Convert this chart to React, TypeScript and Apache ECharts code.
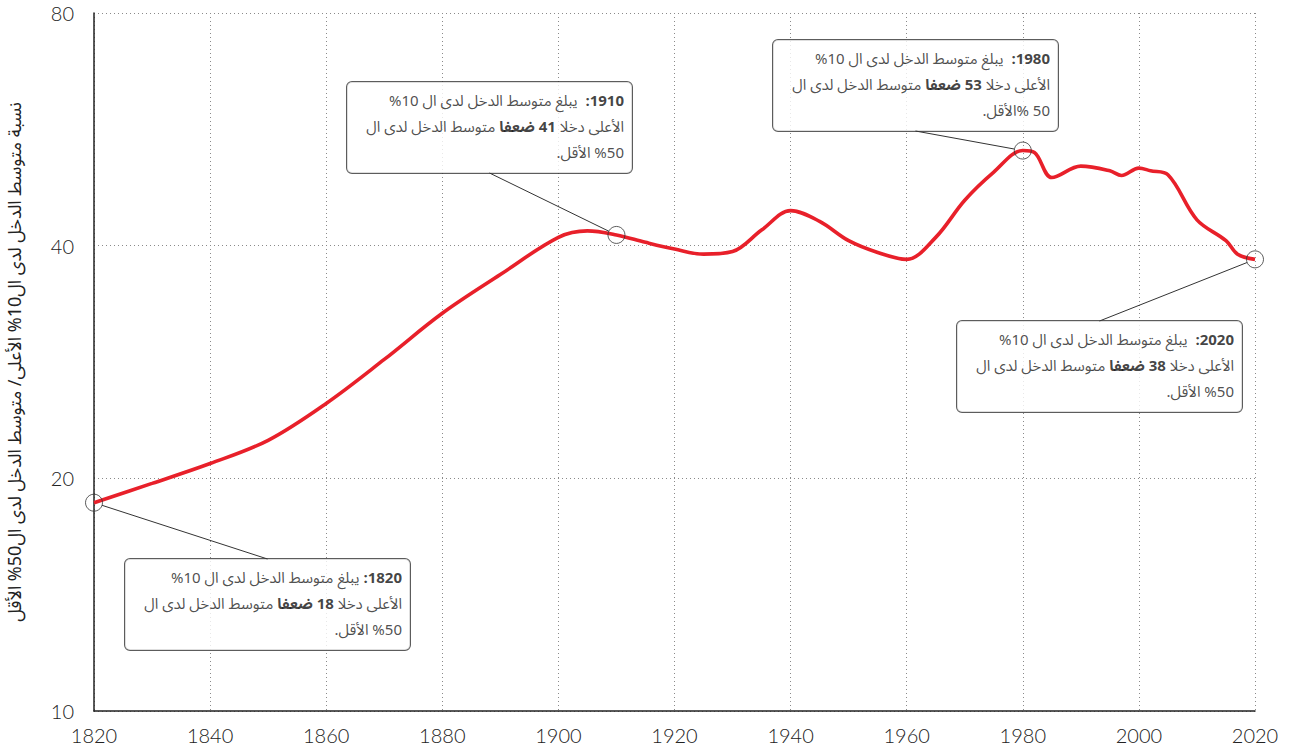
import React, { useEffect, useRef } from 'react';
import * as echarts from 'echarts';

// ---- data ----
const years = [1820, 1830, 1840, 1850, 1860, 1870, 1880, 1890, 1900, 1905, 1910, 1915, 1920, 1925, 1930, 1935, 1940, 1945, 1950, 1955, 1960, 1965, 1970, 1975, 1980, 1982, 1985, 1990, 1995, 1997, 2000, 2002, 2005, 2010, 2015, 2017, 2020];
const ratio = [18.6, 19.7, 20.9, 22.4, 25.0, 28.5, 32.7, 36.7, 41.0, 41.8, 41.3, 40.4, 39.6, 39.0, 39.3, 41.9, 44.4, 43.0, 40.6, 39.2, 38.4, 41.0, 45.8, 49.8, 53.1, 52.8, 49.0, 50.7, 50.0, 49.3, 50.4, 50.0, 49.4, 43.2, 40.6, 39.0, 38.4];
const yTickValues = [10, 20, 40, 80];
const noteYears = [1820, 1910, 1980, 2020];
const noteMultiples = ['18', '41', '53', '38'];
const noteYearGaps = [' ', '  ', '  ', '  '];
const noteLastLines = ['50% الأقل.', '50% الأقل.', '50 %الأقل.', '50% الأقل.'];
const noteLine1 = 'يبلغ متوسط الدخل لدى ال 10%';
const noteLine2a = 'الأعلى دخلا';
const noteLine2b = 'ضعفا';
const noteLine2c = 'متوسط الدخل لدى ال';
const yAxisTitle = 'نسبة متوسط الدخل لدى ال10% الأعلى/ متوسط الدخل لدى ال50% الأقل';

// annotation box placement (top-left corners, px) and size
const noteBoxX = [125, 347, 773, 957];
const noteBoxY = [559, 82, 40, 321];
const boxInnerW = 270;
const boxPad = [6, 8, 7, 7];
const boxLineH = 26;
const boxW = boxInnerW + boxPad[1] + boxPad[3];
const boxH = boxLineH * 3 + boxPad[0] + boxPad[2];

const RLE = '\u202B';
const PDF = '\u202C';
const ALM = '\u061C';
const rtl = (s: string) => RLE + s + PDF;
const rtlCtx = (s: string) => RLE + ALM + s + PDF;

const arabicFont = "'Noto Sans Arabic', 'Noto Sans', 'DejaVu Sans', sans-serif";
const numFont = "Lato, 'Open Sans', sans-serif";

const noteTexts = noteYears.map((yr, i) => {
  const l1 = `{p|${rtl(noteLine1)}${noteYearGaps[i]}}{b|${rtl(yr + ':')}}`;
  const l2 = `{p|${rtlCtx(noteLine2c)} }{b|${rtlCtx(noteMultiples[i] + ' ' + noteLine2b)}}{p| ${rtl(noteLine2a)}}`;
  const l3 = `{p|${rtlCtx(noteLastLines[i])}}`;
  return [l1, l2, l3].join('\n');
});

const lineData = years.map((y, i) => [y, ratio[i]]);
const noteData = noteYears.map((y) => [y, ratio[years.indexOf(y)]]);

const gridLine = { show: true, lineStyle: { type: [1, 3] as any, color: '#8a8a8a', width: 1 } };
const symbolSize = 17;

const option: any = {
  animation: false,
  backgroundColor: '#fff',
  grid: { left: 94, right: 35, top: 13, bottom: 40, containLabel: false, outerBoundsMode: 'none' },
  xAxis: {
    type: 'value',
    min: 1820,
    max: 2020,
    interval: 20,
    axisLine: { show: true, onZero: false, lineStyle: { color: '#222', width: 1.5 } },
    axisTick: { show: false },
    axisLabel: { color: '#222', fontSize: 20, fontFamily: numFont, fontWeight: 300, margin: 14, formatter: (v: number) => String(v) },
    splitLine: gridLine,
  },
  yAxis: {
    type: 'log',
    logBase: 2,
    min: 10,
    max: 80,
    axisLine: { show: true, lineStyle: { color: '#222', width: 1.5 } },
    axisTick: { show: false, customValues: yTickValues },
    axisLabel: { customValues: yTickValues, color: '#222', fontSize: 20, fontFamily: numFont, fontWeight: 300, margin: 20, formatter: (v: number) => String(v) },
    splitLine: gridLine,
    name: rtl(yAxisTitle),
    nameLocation: 'middle',
    nameGap: 70,
    nameMoveOverlap: false,
    nameTextStyle: { color: '#222', fontSize: 18, fontFamily: arabicFont },
  },
  series: [
    {
      type: 'line',
      data: lineData,
      smooth: 0.35,
      symbol: 'none',
      lineStyle: { color: '#e8202a', width: 3.6 },
      z: 2,
    },
    {
      type: 'scatter',
      data: noteData,
      symbol: 'circle',
      symbolSize: symbolSize,
      itemStyle: { color: 'rgba(255,255,255,0)', borderColor: '#333', borderWidth: 1 },
      z: 3,
      label: {
        show: true,
        formatter: (p: any) => noteTexts[p.dataIndex],
        width: boxInnerW,
        padding: boxPad,
        backgroundColor: '#fff',
        borderColor: '#333',
        borderWidth: 1,
        borderRadius: 5,
        color: '#222',
        fontSize: 15,
        lineHeight: boxLineH,
        fontFamily: arabicFont,
        rich: {
          p: { fontSize: 15, lineHeight: boxLineH, color: '#222', fontFamily: arabicFont, align: 'right' },
          b: { fontSize: 15, lineHeight: boxLineH, color: '#111', fontFamily: arabicFont, fontWeight: 'bold', align: 'right' },
        },
      },
      labelLine: { show: false },
      labelLayout: (params: any) => ({
        x: noteBoxX[params.dataIndex],
        y: noteBoxY[params.dataIndex],
        align: 'left',
        verticalAlign: 'top',
      }),
      emphasis: { disabled: true },
    },
  ],
};

export default function App() {
  const ref = useRef<HTMLDivElement>(null);
  useEffect(() => {
    if (!ref.current) return;
    const chart = echarts.init(ref.current, null, { renderer: 'svg' });
    chart.setOption(option);
    // leader lines: from the middle of the box edge facing the point to the circle's rim
    const r = symbolSize / 2;
    const leaders = noteData.map((pt, i) => {
      const c = chart.convertToPixel({ seriesIndex: 1 }, pt) as number[];
      const bx = noteBoxX[i];
      const by = noteBoxY[i];
      const above = by + boxH / 2 < c[1];
      const ax = bx + boxW / 2;
      const ay = above ? by + boxH : by;
      const dx = ax - c[0];
      const dy = ay - c[1];
      const d = Math.sqrt(dx * dx + dy * dy) || 1;
      return {
        type: 'line',
        z: 5,
        silent: true,
        shape: { x1: c[0] + (dx / d) * r, y1: c[1] + (dy / d) * r, x2: ax, y2: ay },
        style: { stroke: '#333', lineWidth: 1 },
      };
    });
    chart.setOption({ graphic: leaders });
    return () => chart.dispose();
  }, []);
  return (
    <div
      ref={ref}
      style={{ position: 'fixed', left: 0, top: 0, width: 1290, height: 751, background: '#fff' }}
    />
  );
}
